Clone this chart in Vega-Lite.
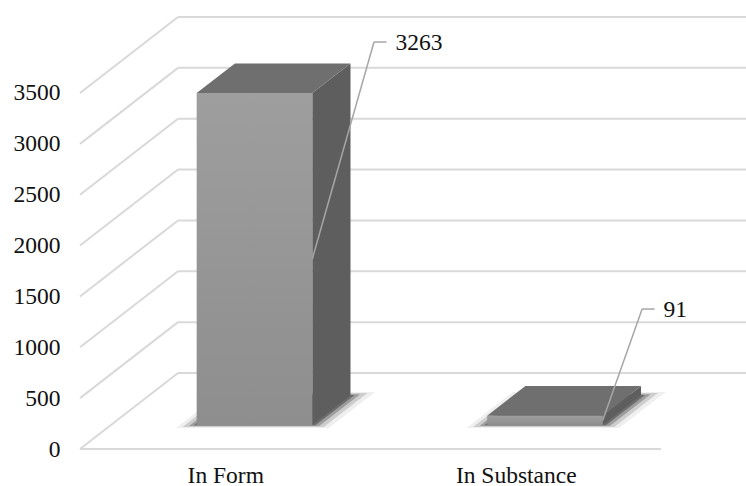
{
  "$schema": "https://vega.github.io/schema/vega-lite/v6.json",
  "autosize": {"type": "none"},
  "width": 678,
  "height": 452,
  "padding": {"left": 68, "top": 0, "right": 0, "bottom": 34},
  "background": "white",
  "config": {"view": {"stroke": null}, "font": "Liberation Serif"},
  "datasets": {
    "bars": [
      {"category": "In Form", "value": 3263},
      {"category": "In Substance", "value": 91}
    ],
    "ticks": [
      {"tick": 0}, {"tick": 500}, {"tick": 1000}, {"tick": 1500},
      {"tick": 2000}, {"tick": 2500}, {"tick": 3000}, {"tick": 3500}
    ]
  },
  "layer": [
    {
      "data": {"name": "ticks"},
      "transform": [
        {"calculate": "0.33735", "as": "bx"},
        {"calculate": "2.7", "as": "bx2"},
        {"calculate": "datum.tick + 747.2", "as": "by"}
      ],
      "mark": {"type": "rule", "color": "#d9d9d9", "strokeWidth": 2, "clip": true},
      "encoding": {
        "x": {
          "field": "bx", "type": "quantitative",
          "scale": {"domain": [-0.04131, 2.2926], "nice": false, "zero": false},
          "axis": {
            "title": null, "values": [0.5, 1.5],
            "labelExpr": "datum.value < 1 ? 'In Form' : 'In Substance'",
            "domain": false, "ticks": false, "grid": false,
            "labelFont": "Liberation Serif, DejaVu Serif, serif", "labelFontSize": 23.5, "labelColor": "#111111",
            "labelBaseline": "alphabetic", "labelPadding": 30, "labelFlush": false
          }
        },
        "x2": {"field": "bx2"},
        "y": {
          "field": "by", "type": "quantitative",
          "scale": {"domain": [-29.49, 4414.3], "nice": false, "zero": false},
          "axis": {
            "title": null, "values": [0, 500, 1000, 1500, 2000, 2500, 3000, 3500],
            "format": "d",
            "domain": false, "ticks": false, "grid": false,
            "labelFont": "Liberation Serif, DejaVu Serif, serif", "labelFontSize": 23.5, "labelColor": "#111111",
            "labelPadding": 8, "labelFlush": false
          }
        }
      }
    },
    {
      "data": {"name": "ticks"},
      "transform": [
        {"calculate": "0", "as": "dx0"},
        {"calculate": "0.33735", "as": "dx1"},
        {"calculate": "datum.tick + 747.2", "as": "dy1"}
      ],
      "mark": {"type": "rule", "color": "#d9d9d9", "strokeWidth": 2},
      "encoding": {
        "x": {"field": "dx0", "type": "quantitative"},
        "x2": {"field": "dx1"},
        "y": {"field": "tick", "type": "quantitative"},
        "y2": {"field": "dy1"}
      }
    },
    {
      "data": {"name": "ticks"},
      "transform": [
        {"filter": "datum.tick === 0"},
        {"calculate": "0", "as": "fx0"},
        {"calculate": "2", "as": "fx1"}
      ],
      "mark": {"type": "rule", "color": "#d9d9d9", "strokeWidth": 2},
      "encoding": {
        "x": {"field": "fx0", "type": "quantitative"},
        "x2": {"field": "fx1"},
        "y": {"field": "tick", "type": "quantitative"}
      }
    },
    {
      "data": {"name": "bars"},
      "transform": [
        {"window": [{"op": "row_number", "as": "n"}]},
        {"calculate": "[0.316 - 0.04, 0.706 + 0.045]", "as": "zz"},
        {"flatten": ["zz"]},
        {"calculate": "datum.n - 1 + 0.295 - 0.058 + datum.zz * 0.33735", "as": "sx1"},
        {"calculate": "datum.n - 1 + 0.693 + 0.07 + datum.zz * 0.33735", "as": "sx2"},
        {"calculate": "datum.zz * 747.2", "as": "sy"}
      ],
      "mark": {"type": "area", "orient": "horizontal", "color": "#222222", "opacity": 0.07},
      "encoding": {
        "y": {"field": "sy", "type": "quantitative"},
        "x": {"field": "sx1", "type": "quantitative"},
        "x2": {"field": "sx2"},
        "detail": {"field": "category"}
      }
    },
    {
      "data": {"name": "bars"},
      "transform": [
        {"window": [{"op": "row_number", "as": "n"}]},
        {"calculate": "[0.316 - 0.025, 0.706 + 0.03]", "as": "zz"},
        {"flatten": ["zz"]},
        {"calculate": "datum.n - 1 + 0.295 - 0.04 + datum.zz * 0.33735", "as": "sx1"},
        {"calculate": "datum.n - 1 + 0.693 + 0.048 + datum.zz * 0.33735", "as": "sx2"},
        {"calculate": "datum.zz * 747.2", "as": "sy"}
      ],
      "mark": {"type": "area", "orient": "horizontal", "color": "#222222", "opacity": 0.16},
      "encoding": {
        "y": {"field": "sy", "type": "quantitative"},
        "x": {"field": "sx1", "type": "quantitative"},
        "x2": {"field": "sx2"},
        "detail": {"field": "category"}
      }
    },
    {
      "data": {"name": "bars"},
      "transform": [
        {"window": [{"op": "row_number", "as": "n"}]},
        {"calculate": "[0.316 - 0.012, 0.706 + 0.015]", "as": "zz"},
        {"flatten": ["zz"]},
        {"calculate": "datum.n - 1 + 0.295 - 0.022 + datum.zz * 0.33735", "as": "sx1"},
        {"calculate": "datum.n - 1 + 0.693 + 0.028 + datum.zz * 0.33735", "as": "sx2"},
        {"calculate": "datum.zz * 747.2", "as": "sy"}
      ],
      "mark": {"type": "area", "orient": "horizontal", "color": "#222222", "opacity": 0.28},
      "encoding": {
        "y": {"field": "sy", "type": "quantitative"},
        "x": {"field": "sx1", "type": "quantitative"},
        "x2": {"field": "sx2"},
        "detail": {"field": "category"}
      }
    },
    {
      "data": {"name": "bars"},
      "transform": [
        {"window": [{"op": "row_number", "as": "n"}]},
        {"calculate": "[0.316 - 0.004, 0.706 + 0.006]", "as": "zz"},
        {"flatten": ["zz"]},
        {"calculate": "datum.n - 1 + 0.295 - 0.008 + datum.zz * 0.33735", "as": "sx1"},
        {"calculate": "datum.n - 1 + 0.693 + 0.012 + datum.zz * 0.33735", "as": "sx2"},
        {"calculate": "datum.zz * 747.2", "as": "sy"}
      ],
      "mark": {"type": "area", "orient": "horizontal", "color": "#222222", "opacity": 0.4},
      "encoding": {
        "y": {"field": "sy", "type": "quantitative"},
        "x": {"field": "sx1", "type": "quantitative"},
        "x2": {"field": "sx2"},
        "detail": {"field": "category"}
      }
    },
    {
      "data": {"name": "bars"},
      "transform": [
        {"window": [{"op": "row_number", "as": "n"}]},
        {"calculate": "[0.316, 0.706]", "as": "zz"},
        {"flatten": ["zz"]},
        {"calculate": "datum.n - 1 + 0.693 + datum.zz * 0.33735", "as": "px"},
        {"calculate": "datum.zz * 747.2", "as": "py"},
        {"calculate": "datum.value + datum.zz * 747.2", "as": "py2"}
      ],
      "mark": {"type": "area", "orient": "vertical", "color": "#5e5e5e"},
      "encoding": {
        "x": {"field": "px", "type": "quantitative"},
        "y": {"field": "py", "type": "quantitative"},
        "y2": {"field": "py2"},
        "detail": {"field": "category"}
      }
    },
    {
      "data": {"name": "bars"},
      "transform": [
        {"window": [{"op": "row_number", "as": "n"}]},
        {"calculate": "[0.316, 0.706]", "as": "zz"},
        {"flatten": ["zz"]},
        {"calculate": "datum.n - 1 + 0.295 + datum.zz * 0.33735", "as": "tx1"},
        {"calculate": "datum.n - 1 + 0.693 + datum.zz * 0.33735", "as": "tx2"},
        {"calculate": "datum.value + datum.zz * 747.2", "as": "ty"}
      ],
      "mark": {"type": "area", "orient": "horizontal", "color": "#6f6f6f"},
      "encoding": {
        "y": {"field": "ty", "type": "quantitative"},
        "x": {"field": "tx1", "type": "quantitative"},
        "x2": {"field": "tx2"},
        "detail": {"field": "category"}
      }
    },
    {
      "data": {"name": "bars"},
      "transform": [
        {"window": [{"op": "row_number", "as": "n"}]},
        {"calculate": "datum.n - 1 + 0.295 + 0.316 * 0.33735", "as": "fx1"},
        {"calculate": "datum.n - 1 + 0.693 + 0.316 * 0.33735", "as": "fx2"},
        {"calculate": "0.316 * 747.2", "as": "fy1"},
        {"calculate": "datum.value + 0.316 * 747.2", "as": "fy2"}
      ],
      "mark": {
        "type": "rect",
        "color": {
          "gradient": "linear", "x1": 0, "y1": 0, "x2": 0, "y2": 1,
          "stops": [{"offset": 0, "color": "#9e9e9e"}, {"offset": 1, "color": "#8e8e8e"}]
        }
      },
      "encoding": {
        "x": {"field": "fx1", "type": "quantitative"},
        "x2": {"field": "fx2"},
        "y": {"field": "fy1", "type": "quantitative"},
        "y2": {"field": "fy2"}
      }
    },
    {
      "data": {"name": "bars"},
      "transform": [
        {"window": [{"op": "row_number", "as": "n"}]},
        {"calculate": "datum.n - 1 + 0.693 + 0.316 * 0.33735", "as": "lx1"},
        {"calculate": "datum.value / 2 + 0.316 * 747.2", "as": "ly1"},
        {"calculate": "datum.n - 1 + (datum.n === 1 ? 1.012 : 0.935)", "as": "lx2"},
        {"calculate": "datum.n === 1 ? 4001 : 1376", "as": "ly2"}
      ],
      "mark": {"type": "rule", "color": "#a6a6a6", "strokeWidth": 1.5},
      "encoding": {
        "x": {"field": "lx1", "type": "quantitative"},
        "y": {"field": "ly1", "type": "quantitative"},
        "x2": {"field": "lx2"},
        "y2": {"field": "ly2"}
      }
    },
    {
      "data": {"name": "bars"},
      "transform": [
        {"window": [{"op": "row_number", "as": "n"}]},
        {"calculate": "datum.n - 1 + (datum.n === 1 ? 1.012 : 0.935)", "as": "lx2"},
        {"calculate": "datum.lx2 + 0.043", "as": "lx3"},
        {"calculate": "datum.n === 1 ? 4001 : 1376", "as": "ly2"}
      ],
      "mark": {"type": "rule", "color": "#a6a6a6", "strokeWidth": 1.5},
      "encoding": {
        "x": {"field": "lx2", "type": "quantitative"},
        "x2": {"field": "lx3"},
        "y": {"field": "ly2", "type": "quantitative"}
      }
    },
    {
      "data": {"name": "bars"},
      "transform": [
        {"window": [{"op": "row_number", "as": "n"}]},
        {"calculate": "datum.n - 1 + (datum.n === 1 ? 1.012 : 0.935) + 0.043", "as": "lx3"},
        {"calculate": "datum.n === 1 ? 4001 : 1376", "as": "ly2"}
      ],
      "mark": {
        "type": "text", "align": "left", "baseline": "middle", "dx": 9, "dy": 1,
        "font": "Liberation Serif, DejaVu Serif, serif", "fontSize": 23.5, "color": "#111111"
      },
      "encoding": {
        "x": {"field": "lx3", "type": "quantitative"},
        "y": {"field": "ly2", "type": "quantitative"},
        "text": {"field": "value", "type": "quantitative"}
      }
    }
  ]
}
